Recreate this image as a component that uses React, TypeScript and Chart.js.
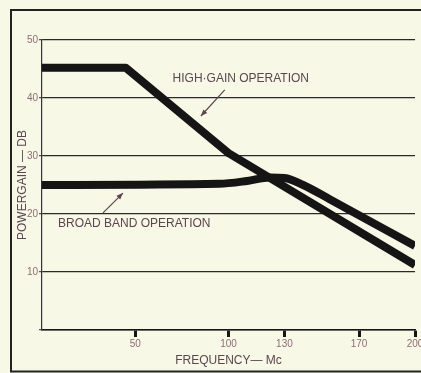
import { useEffect, useRef } from 'react';
import { Chart, registerables } from 'chart.js';

Chart.register(...registerables);

// Power gain (dB) against frequency (Mc) for the two operating modes
const highGainFreq = [0, 45, 100, 200];
const highGainDb = [45.2, 45.2, 30.5, 11.2];
const broadBandFreq = [0, 95, 110, 122, 130, 140, 154, 200];
const broadBandDb = [25, 25.2, 25.7, 26.3, 26.2, 25.0, 22.6, 14.5];
const freqTicks = [50, 100, 130, 170, 200];

// Curve labels with their pointer arrows, in data coordinates
const notes = [
  { text: 'HIGH·GAIN OPERATION', at: [70, 43.4], from: [98, 41.4], to: [85.2, 36.9] },
  { text: 'BROAD BAND OPERATION', at: [8.6, 18.3], from: [32.7, 20.2], to: [43.4, 23.6] },
];

const PAPER = '#f7f8e5';
const INK = '#151515';
const LABEL = '#5b4552';
const TICK_LABEL = '#8d6d78';
const FONT = '"Liberation Sans", Arial, sans-serif';

const toPoints = (xs: number[], ys: number[]) => xs.map((x, i) => ({ x, y: ys[i] }));

// Cream paper with the open frame on the top, left and bottom sides
const paperPlugin = {
  id: 'paper',
  beforeDraw(chart: any) {
    const { ctx, width, height } = chart;
    ctx.save();
    ctx.fillStyle = PAPER;
    ctx.fillRect(0, 0, width, height);
    ctx.strokeStyle = '#222';
    ctx.lineWidth = 2;
    ctx.beginPath();
    ctx.moveTo(width, 10);
    ctx.lineTo(11, 10);
    ctx.lineTo(11, 371.5);
    ctx.lineTo(width, 371.5);
    ctx.stroke();
    ctx.restore();
  },
};

const notesPlugin = {
  id: 'notes',
  afterDatasetsDraw(chart: any) {
    const { ctx } = chart;
    const xs = chart.scales.x;
    const ys = chart.scales.y;
    const px = (p: number[]) => [xs.getPixelForValue(p[0]), ys.getPixelForValue(p[1])];
    ctx.save();
    ctx.font = `12px ${FONT}`;
    ctx.fillStyle = LABEL;
    ctx.strokeStyle = LABEL;
    ctx.textAlign = 'left';
    ctx.textBaseline = 'middle';
    notes.forEach((n) => {
      const [tx, ty] = px(n.at);
      ctx.fillText(n.text, tx, ty);
      const [x1, y1] = px(n.from);
      const [x2, y2] = px(n.to);
      ctx.lineWidth = 1.2;
      ctx.beginPath();
      ctx.moveTo(x1, y1);
      ctx.lineTo(x2, y2);
      ctx.stroke();
      const ang = Math.atan2(y2 - y1, x2 - x1);
      const len = 7;
      const spread = 0.38;
      ctx.beginPath();
      ctx.moveTo(x2, y2);
      ctx.lineTo(x2 - len * Math.cos(ang - spread), y2 - len * Math.sin(ang - spread));
      ctx.lineTo(x2 - len * Math.cos(ang + spread), y2 - len * Math.sin(ang + spread));
      ctx.closePath();
      ctx.fill();
    });
    ctx.restore();
  },
};

export default function App() {
  const canvasRef = useRef<HTMLCanvasElement | null>(null);

  useEffect(() => {
    if (!canvasRef.current) return;
    const chart = new Chart(canvasRef.current, {
      type: 'line',
      data: {
        datasets: [
          {
            label: 'High-gain operation',
            data: toPoints(highGainFreq, highGainDb),
            borderColor: INK,
            borderWidth: 8,
            pointRadius: 0,
            tension: 0,
            borderJoinStyle: 'round',
            fill: false,
          },
          {
            label: 'Broad band operation',
            data: toPoints(broadBandFreq, broadBandDb),
            borderColor: INK,
            borderWidth: 8,
            pointRadius: 0,
            cubicInterpolationMode: 'monotone',
            borderJoinStyle: 'round',
            fill: false,
          },
        ],
      },
      options: {
        responsive: false,
        animation: false,
        layout: { padding: { top: 40, right: 6, left: 0, bottom: 0 } },
        plugins: {
          legend: { display: false },
          tooltip: { enabled: false },
        },
        scales: {
          x: {
            type: 'linear',
            min: 0,
            max: 200,
            afterBuildTicks: (s: any) => {
              s.ticks = freqTicks.map((value) => ({ value }));
            },
            afterFit: (s: any) => {
              s.height = 43;
              s.paddingLeft = 0;
              s.paddingRight = 0;
            },
            ticks: {
              autoSkip: false,
              maxRotation: 0,
              padding: 1,
              color: TICK_LABEL,
              font: { family: FONT, size: 10 },
              callback: (v: any) => String(v),
            },
            grid: {
              drawOnChartArea: false,
              drawTicks: true,
              tickLength: 7,
              tickWidth: 3,
              tickColor: INK,
            },
            border: { display: true, color: INK, width: 1.6 },
            title: {
              display: true,
              text: 'FREQUENCY— Mc',
              color: LABEL,
              font: { family: FONT, size: 12 },
              padding: { top: 0, bottom: 5 },
            },
          },
          y: {
            type: 'linear',
            min: 0,
            max: 50,
            afterFit: (s: any) => {
              s.width = 42;
            },
            ticks: {
              stepSize: 10,
              padding: 1,
              color: TICK_LABEL,
              font: { family: FONT, size: 10 },
              callback: (v: any) => (v === 0 ? '' : String(v)),
            },
            grid: {
              color: '#2a2a2a',
              lineWidth: 1.2,
              drawTicks: true,
              tickLength: 3,
              tickColor: '#555',
            },
            border: { display: true, color: '#333', width: 1.2 },
            title: {
              display: true,
              text: 'POWERGAIN — DB',
              color: LABEL,
              font: { family: FONT, size: 12 },
              padding: { top: 15, bottom: 0 },
            },
          },
        },
      },
      plugins: [paperPlugin, notesPlugin],
    });
    return () => chart.destroy();
  }, []);

  return (
    <div style={{ position: 'absolute', left: 0, top: 0, width: 421, height: 373 }}>
      <canvas ref={canvasRef} width={421} height={373} style={{ width: 421, height: 373, display: 'block' }} />
    </div>
  );
}
